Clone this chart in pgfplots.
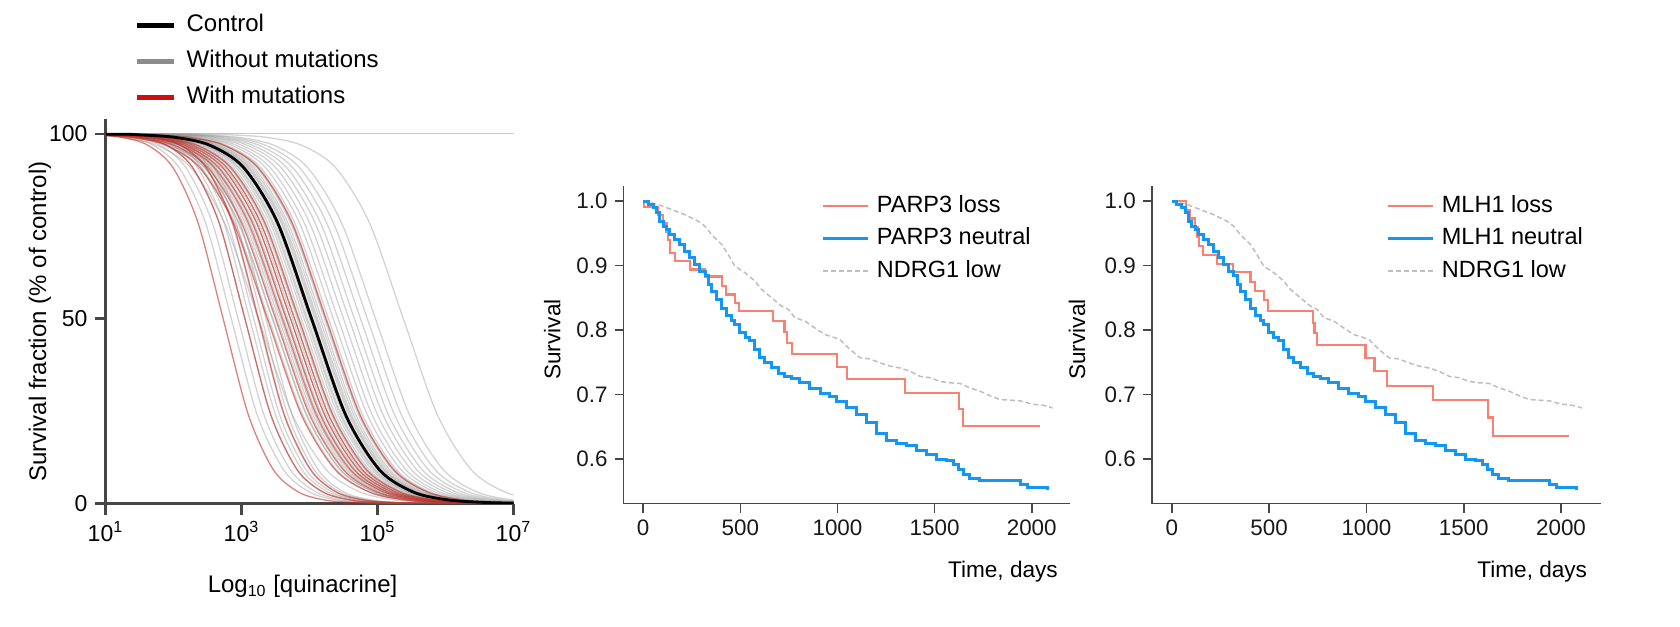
\documentclass[border=0pt]{standalone}
\usepackage{fontspec}
\setmainfont{Liberation Sans}
\usepackage{pgfplots}
\usepackage{pgfplotstable}
\pgfplotsset{compat=1.18}

\definecolor{kmred}{RGB}{250,128,114}
\definecolor{kmblue}{RGB}{20,150,245}
\definecolor{kmgray}{RGB}{190,190,190}
\definecolor{axgray}{RGB}{70,70,70}
\definecolor{curvegray}{RGB}{145,145,145}
\definecolor{curvered}{RGB}{200,45,35}
\definecolor{leggray}{RGB}{140,140,140}
\definecolor{legred}{RGB}{205,15,15}

% dose-response curves: x = log10 dose, shared y (percent of control)
\pgfplotstableread{
y g1 g2 g3 g4 g5 g6 g7 g8 g9 g10 g11 g12 g13 g14 g15 g16 g17 g18 g19 g20 g21 g22 g23 g24 g25 g26 g27 r1 r2 r3 r4 r5 r6 r7 r8 k
100 -2 -2 -2 -2 -2 -2 -2 -2 -2 -2 -2 -2 -2 -2 -2 -2 -2 -2 -2 -2 -2 -2 -2 -2 -2 -2 -2 -2 -2 -2 -2 -2 -2 -2 -2 -2
99.90 0.40 0.46 0.52 0.58 0.62 0.68 0.72 0.78 0.82 0.88 0.92 0.97 1.02 1.08 1.12 1.18 1.22 1.28 1.35 1.42 1.50 1.58 1.66 1.75 1.85 1.97 2.38 0.38 0.50 0.60 0.66 0.72 0.78 0.84 1.24 1.03
99.68 0.90 0.96 1.02 1.08 1.12 1.18 1.22 1.28 1.32 1.38 1.42 1.47 1.52 1.58 1.62 1.68 1.72 1.78 1.85 1.92 2.00 2.08 2.16 2.25 2.35 2.47 2.88 0.88 1.00 1.10 1.16 1.22 1.28 1.34 1.74 1.53
99.01 1.40 1.46 1.52 1.58 1.62 1.68 1.72 1.78 1.82 1.88 1.92 1.97 2.02 2.08 2.12 2.18 2.22 2.28 2.35 2.42 2.50 2.58 2.66 2.75 2.85 2.97 3.38 1.38 1.50 1.60 1.66 1.72 1.78 1.84 2.24 2.03
96.93 1.90 1.96 2.02 2.08 2.12 2.18 2.22 2.28 2.32 2.38 2.42 2.47 2.52 2.58 2.62 2.68 2.72 2.78 2.85 2.92 3.00 3.08 3.16 3.25 3.35 3.47 3.88 1.88 2.00 2.10 2.16 2.22 2.28 2.34 2.74 2.53
90.91 2.40 2.46 2.52 2.58 2.62 2.68 2.72 2.78 2.82 2.88 2.92 2.97 3.02 3.08 3.12 3.18 3.22 3.28 3.35 3.42 3.50 3.58 3.66 3.75 3.85 3.97 4.38 2.38 2.50 2.60 2.66 2.72 2.78 2.84 3.24 3.03
75.97 2.90 2.96 3.02 3.08 3.12 3.18 3.22 3.28 3.32 3.38 3.42 3.47 3.52 3.58 3.62 3.68 3.72 3.78 3.85 3.92 4.00 4.08 4.16 4.25 4.35 4.47 4.88 2.88 3.00 3.10 3.16 3.22 3.28 3.34 3.74 3.53
50.00 3.40 3.46 3.52 3.58 3.62 3.68 3.72 3.78 3.82 3.88 3.92 3.97 4.02 4.08 4.12 4.18 4.22 4.28 4.35 4.42 4.50 4.58 4.66 4.75 4.85 4.97 5.38 3.38 3.50 3.60 3.66 3.72 3.78 3.84 4.24 4.03
24.03 3.90 3.96 4.02 4.08 4.12 4.18 4.22 4.28 4.32 4.38 4.42 4.47 4.52 4.58 4.62 4.68 4.72 4.78 4.85 4.92 5.00 5.08 5.16 5.25 5.35 5.47 5.88 3.88 4.00 4.10 4.16 4.22 4.28 4.34 4.74 4.53
9.09 4.40 4.46 4.52 4.58 4.62 4.68 4.72 4.78 4.82 4.88 4.92 4.97 5.02 5.08 5.12 5.18 5.22 5.28 5.35 5.42 5.50 5.58 5.66 5.75 5.85 5.97 6.38 4.38 4.50 4.60 4.66 4.72 4.78 4.84 5.24 5.03
3.07 4.90 4.96 5.02 5.08 5.12 5.18 5.22 5.28 5.32 5.38 5.42 5.47 5.52 5.58 5.62 5.68 5.72 5.78 5.85 5.92 6.00 6.08 6.16 6.25 6.35 6.47 6.88 4.88 5.00 5.10 5.16 5.22 5.28 5.34 5.74 5.53
0.99 5.40 5.46 5.52 5.58 5.62 5.68 5.72 5.78 5.82 5.88 5.92 5.97 6.02 6.08 6.12 6.18 6.22 6.28 6.35 6.42 6.50 6.58 6.66 6.75 6.85 6.97 7.38 5.38 5.50 5.60 5.66 5.72 5.78 5.84 6.24 6.03
0.32 5.90 5.96 6.02 6.08 6.12 6.18 6.22 6.28 6.32 6.38 6.42 6.47 6.52 6.58 6.62 6.68 6.72 6.78 6.85 6.92 7.00 7.08 7.16 7.25 7.35 7.47 7.88 5.88 6.00 6.10 6.16 6.22 6.28 6.34 6.74 6.53
0.10 6.40 6.46 6.52 6.58 6.62 6.68 6.72 6.78 6.82 6.88 6.92 6.97 7.02 7.08 7.12 7.18 7.22 7.28 7.35 7.42 7.50 7.58 7.66 7.75 7.85 7.97 8.38 6.38 6.50 6.60 6.66 6.72 6.78 6.84 7.24 7.03
0.03 6.90 6.96 7.02 7.08 7.12 7.18 7.22 7.28 7.32 7.38 7.42 7.47 7.52 7.58 7.62 7.68 7.72 7.78 7.85 7.92 8.00 8.08 8.16 8.25 8.35 8.47 8.88 6.88 7.00 7.10 7.16 7.22 7.28 7.34 7.74 7.53
0 10 10 10 10 10 10 10 10 10 10 10 10 10 10 10 10 10 10 10 10 10 10 10 10 10 10 10 10 10 10 10 10 10 10 10 10
}\dose

% further curves without mutations, in the dense middle of the bundle
\pgfplotstableread{
y h1 h2 h3 h4 h5 h6 h7 h8 h9 h10 h11 h12
100 -2 -2 -2 -2 -2 -2 -2 -2 -2 -2 -2 -2
99.90 0.25 0.45 0.55 0.65 0.75 0.85 0.95 1.00 1.05 1.10 1.15 1.25
99.68 0.75 0.95 1.05 1.15 1.25 1.35 1.45 1.50 1.55 1.60 1.65 1.75
99.01 1.25 1.45 1.55 1.65 1.75 1.85 1.95 2.00 2.05 2.10 2.15 2.25
96.93 1.75 1.95 2.05 2.15 2.25 2.35 2.45 2.50 2.55 2.60 2.65 2.75
90.91 2.25 2.45 2.55 2.65 2.75 2.85 2.95 3.00 3.05 3.10 3.15 3.25
75.97 2.75 2.95 3.05 3.15 3.25 3.35 3.45 3.50 3.55 3.60 3.65 3.75
50.00 3.25 3.45 3.55 3.65 3.75 3.85 3.95 4.00 4.05 4.10 4.15 4.25
24.03 3.75 3.95 4.05 4.15 4.25 4.35 4.45 4.50 4.55 4.60 4.65 4.75
9.09 4.25 4.45 4.55 4.65 4.75 4.85 4.95 5.00 5.05 5.10 5.15 5.25
3.07 4.75 4.95 5.05 5.15 5.25 5.35 5.45 5.50 5.55 5.60 5.65 5.75
0.99 5.25 5.45 5.55 5.65 5.75 5.85 5.95 6.00 6.05 6.10 6.15 6.25
0.32 5.75 5.95 6.05 6.15 6.25 6.35 6.45 6.50 6.55 6.60 6.65 6.75
0.10 6.25 6.45 6.55 6.65 6.75 6.85 6.95 7.00 7.05 7.10 7.15 7.25
0.03 6.75 6.95 7.05 7.15 7.25 7.35 7.45 7.50 7.55 7.60 7.65 7.75
0 10 10 10 10 10 10 10 10 10 10 10 10
}\doseb

% steeper curves at the low-dose end (s: without mutations, t: with mutations)
\pgfplotstableread{
y s1 s2 s3 s4 s5 s6 s7 s8 t1 t2 t3
100 -2 -2 -2 -2 -2 -2 -2 -2 -2 -2 -2
99.90 0.54 0.64 0.74 0.81 0.87 0.93 0.99 1.05 0.51 0.74 0.94
99.68 0.93 1.03 1.13 1.20 1.26 1.32 1.38 1.44 0.88 1.13 1.33
99.01 1.31 1.41 1.51 1.58 1.64 1.70 1.76 1.82 1.25 1.51 1.71
96.93 1.70 1.80 1.90 1.97 2.03 2.09 2.15 2.21 1.62 1.90 2.10
90.91 2.08 2.18 2.28 2.35 2.41 2.47 2.53 2.59 1.99 2.28 2.48
75.97 2.47 2.57 2.67 2.74 2.80 2.86 2.92 2.98 2.36 2.67 2.87
50.00 2.85 2.95 3.05 3.12 3.18 3.24 3.30 3.36 2.73 3.05 3.25
24.03 3.23 3.33 3.43 3.50 3.56 3.62 3.68 3.74 3.10 3.43 3.63
9.09 3.62 3.72 3.82 3.89 3.95 4.01 4.07 4.13 3.47 3.82 4.02
3.07 4.00 4.10 4.20 4.27 4.33 4.39 4.45 4.51 3.84 4.20 4.40
0.99 4.39 4.49 4.59 4.66 4.72 4.78 4.84 4.90 4.21 4.59 4.79
0.32 4.77 4.87 4.97 5.04 5.10 5.16 5.22 5.28 4.58 4.97 5.17
0.10 5.16 5.26 5.36 5.43 5.49 5.55 5.61 5.67 4.95 5.36 5.56
0.03 5.54 5.64 5.74 5.81 5.87 5.93 5.99 6.05 5.32 5.74 5.94
0 10 10 10 10 10 10 10 10 10 10 10
}\dosec

\pgfplotstableread{
t s
0 1.000
26 0.995
51 0.990
69 0.982
86 0.969
103 0.961
120 0.956
137 0.948
163 0.940
189 0.933
215 0.922
240 0.912
266 0.902
292 0.891
318 0.884
335 0.871
352 0.860
378 0.847
403 0.834
429 0.822
455 0.814
472 0.808
498 0.796
524 0.788
549 0.783
575 0.770
601 0.757
626 0.749
661 0.741
695 0.733
729 0.728
764 0.725
807 0.718
858 0.709
910 0.701
961 0.696
996 0.689
1047 0.679
1099 0.669
1150 0.656
1202 0.640
1253 0.629
1305 0.624
1356 0.620
1408 0.613
1459 0.607
1511 0.599
1562 0.598
1597 0.591
1622 0.583
1650 0.576
1680 0.570
1730 0.567
1923 0.567
1941 0.560
1978 0.556
2070 0.556
2079 0.551
}\neutral

\pgfplotstableread{
t s
0 1.000
77 0.995
146 0.987
215 0.979
283 0.969
318 0.961
352 0.948
403 0.933
438 0.917
472 0.899
524 0.889
575 0.876
609 0.863
661 0.850
712 0.837
747 0.832
781 0.819
832 0.814
884 0.803
935 0.793
987 0.788
1013 0.785
1064 0.770
1116 0.757
1167 0.755
1219 0.749
1270 0.744
1322 0.741
1373 0.736
1425 0.728
1476 0.726
1528 0.720
1579 0.718
1631 0.717
1682 0.710
1734 0.705
1785 0.698
1837 0.692
1888 0.691
1940 0.690
2000 0.685
2060 0.683
2107 0.679
}\ndrg

\pgfplotstableread{
t s
0 1.000
3 0.991
77 0.978
103 0.966
120 0.953
128 0.940
137 0.920
163 0.907
240 0.894
318 0.883
407 0.868
425 0.855
472 0.842
495 0.829
669 0.814
727 0.797
740 0.780
765 0.763
996 0.743
1047 0.724
1347 0.702
1627 0.677
1648 0.651
2042 0.651
}\parploss

\pgfplotstableread{
t s
0 1.000
72 0.986
95 0.973
119 0.960
132 0.944
141 0.930
160 0.916
233 0.903
316 0.890
404 0.875
426 0.861
472 0.847
496 0.829
724 0.811
733 0.795
747 0.777
995 0.757
1041 0.736
1106 0.713
1344 0.691
1625 0.664
1651 0.635
2042 0.635
}\mlhloss

\pgfplotsset{
  kmaxis/.style={
    scale only axis, height=158.65pt,
    ymin=0.5306, ymax=1.0233,
    axis lines=left,
    axis line style={-, draw=axgray, line width=0.8pt},
    tick align=outside, major tick length=4.5pt,
    tick style={draw=axgray, line width=0.8pt},
    xtick={0,500,1000,1500,2000},
    xticklabels={0,500,1000,1500,2000},
    ytick={0.6,0.7,0.8,0.9,1.0},
    yticklabels={0.6,0.7,0.8,0.9,1.0},
    tick label style={font=\fontsize{11.2}{13}\selectfont, text=black!90},
    label style={font=\fontsize{11.3}{13}\selectfont},
    xlabel={Time, days},
    ylabel={Survival},
    legend cell align=left,
    legend image code/.code={\draw[##1] (0pt,0pt) -- (22.5pt,0pt);},
    legend style={draw=none, fill=none, inner sep=0pt, outer sep=0pt,
      anchor=north west, font=\fontsize{11.75}{13}\selectfont,
      row sep=5.25pt, column sep=3.5pt,
      nodes={inner sep=0pt, text height=8.5pt, text depth=2.5pt}},
  }
}

\begin{document}
\begin{tikzpicture}
\path[use as bounding box] (-52.75pt,-61.25pt) rectangle (787.25pt,251.75pt);

% ---------------- left panel ----------------
\begin{axis}[
  at={(0pt,0pt)}, anchor=south west,
  scale only axis, width=204pt, height=192.25pt,
  xmin=1, xmax=7, ymin=0, ymax=104,
  axis lines=left,
  axis line style={-, draw=axgray, line width=1.2pt},
  tick align=outside, major tick length=5.5pt,
  tick style={draw=axgray, line width=1.2pt},
  xtick={1,3,5,7},
  xticklabels={10\textsuperscript{1},10\textsuperscript{3},10\textsuperscript{5},10\textsuperscript{7}},
  ytick={0,50,100}, yticklabels={0,50,100},
  tick label style={font=\fontsize{11.5}{13}\selectfont},
  label style={font=\fontsize{12}{14}\selectfont},
  xlabel={Log\textsubscript{10} [quinacrine]},
  ylabel={Survival fraction (\% of control)},
  xlabel style={at={(axis description cs:0.483,-0.2164)}, anchor=center},
  ylabel style={at={(axis description cs:-0.1605,0.473)}, anchor=center},
  legend cell align=left,
  legend image code/.code={\draw[#1] (0pt,0pt) -- (18.5pt,0pt);},
  legend style={draw=none, fill=none, inner sep=0pt, outer sep=0pt,
    at={(axis description cs:0.0723,1.275)}, anchor=north west,
    font=\fontsize{12}{14}\selectfont, row sep=6pt, column sep=5pt,
    nodes={inner sep=0pt, text height=9pt, text depth=3pt}},
]
\addlegendimage{black, line width=2.3pt}
\addlegendimage{leggray, line width=2.3pt}
\addlegendimage{legred, line width=2.3pt}

\addplot[forget plot, color=curvegray, opacity=0.5, line width=0.6pt] coordinates {(1,100) (7,100)};
\pgfplotsinvokeforeach{1,...,27}{
  \addplot[forget plot, smooth, color=curvegray, opacity=0.4, line width=0.65pt] table[x=g#1, y=y] {\dose};
}
\pgfplotsinvokeforeach{1,...,12}{
  \addplot[forget plot, smooth, color=curvegray, opacity=0.4, line width=0.65pt] table[x=h#1, y=y] {\doseb};
}
\pgfplotsinvokeforeach{1,...,8}{
  \addplot[forget plot, smooth, color=curvegray, opacity=0.4, line width=0.65pt] table[x=s#1, y=y] {\dosec};
}
\pgfplotsinvokeforeach{1,...,8}{
  \addplot[forget plot, smooth, color=curvered, opacity=0.6, line width=0.65pt] table[x=r#1, y=y] {\dose};
}
\pgfplotsinvokeforeach{1,...,3}{
  \addplot[forget plot, smooth, color=curvered, opacity=0.6, line width=0.65pt] table[x=t#1, y=y] {\dosec};
}
\addplot[forget plot, smooth, color=black, line width=1.4pt] table[x=k, y=y] {\dose};
\legend{Control, Without mutations, With mutations}
\end{axis}

% ---------------- middle panel ----------------
\begin{axis}[
  kmaxis,
  at={(259.05pt,0pt)}, anchor=south west,
  width=223.3pt, xmin=-101, xmax=2198,
  xlabel style={at={(axis description cs:0.988,-0.2134)}, anchor=east},
  ylabel style={at={(axis description cs:-0.1599,0.517)}, anchor=center},
  legend style={at={(axis description cs:0.444,0.972)}},
]
\addlegendimage{kmred, line width=1.1pt}
\addlegendimage{kmblue, line width=1.5pt}
\addlegendimage{kmgray, line width=0.75pt, dash pattern=on 2.5pt off 1.5pt}
\addplot[forget plot, kmgray, line width=0.75pt, dash pattern=on 2.5pt off 1.5pt] table[x=t, y=s] {\ndrg};
\addplot[forget plot, const plot, kmred, line width=1.1pt] table[x=t, y=s] {\parploss};
\addplot[forget plot, const plot, kmblue, line width=1.5pt] table[x=t, y=s] {\neutral};
\legend{PARP3 loss, PARP3 neutral, NDRG1 low}
\end{axis}

% ---------------- right panel ----------------
\begin{axis}[
  kmaxis,
  at={(523.15pt,0pt)}, anchor=south west,
  width=224.75pt, xmin=-103, xmax=2207,
  xlabel style={at={(axis description cs:0.984,-0.2134)}, anchor=east},
  ylabel style={at={(axis description cs:-0.1662,0.517)}, anchor=center},
  legend style={at={(axis description cs:0.523,0.972)}},
]
\addlegendimage{kmred, line width=1.1pt}
\addlegendimage{kmblue, line width=1.5pt}
\addlegendimage{kmgray, line width=0.75pt, dash pattern=on 2.5pt off 1.5pt}
\addplot[forget plot, kmgray, line width=0.75pt, dash pattern=on 2.5pt off 1.5pt] table[x=t, y=s] {\ndrg};
\addplot[forget plot, const plot, kmred, line width=1.1pt] table[x=t, y=s] {\mlhloss};
\addplot[forget plot, const plot, kmblue, line width=1.5pt] table[x=t, y=s] {\neutral};
\legend{MLH1 loss, MLH1 neutral, NDRG1 low}
\end{axis}
\end{tikzpicture}
\end{document}
